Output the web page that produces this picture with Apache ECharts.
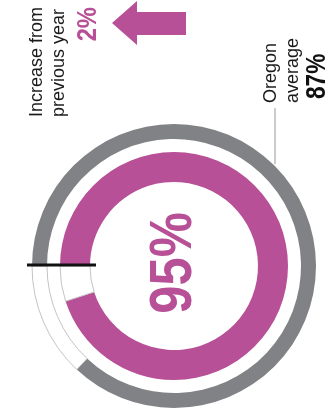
<!DOCTYPE html>
<html>
<head>
<meta charset="utf-8">
<script src="https://cdn.jsdelivr.net/npm/echarts@6/dist/echarts.min.js"></script>
<style>
html,body{margin:0;padding:0;background:#fff;}
#chart{width:328px;height:415px;}
</style>
</head>
<body>
<div id="chart"></div>
<script>
// Data
const ringNames = ['School', 'Oregon average'];
const ringValues = [95, 87];          // percent
const increaseValues = [2];           // percent change from previous year
const labelLines = ['Increase from', 'previous year', 'Oregon', 'average'];

const MAGENTA = '#b75096';
const GRAY = '#808285';
const REST_BORDER = '#c4c4c4';
const FONT = '"Liberation Sans", Arial, Helvetica, sans-serif';

const chart = echarts.init(document.getElementById('chart'), null, {renderer: 'canvas'});

function ringData(v, color) {
  return [
    {value: v, itemStyle: {color: color, borderWidth: 0}},
    {value: 100 - v, itemStyle: {color: '#ffffff', borderColor: REST_BORDER, borderWidth: 1}}
  ];
}

const center = [174, 266];
const R = Math.PI / 2;

chart.setOption({
  animation: false,
  backgroundColor: '#ffffff',
  series: [
    {
      name: ringNames[1], type: 'pie', silent: true,
      center: center, radius: [127, 142], startAngle: 180, clockwise: true,
      label: {show: false}, labelLine: {show: false},
      data: ringData(ringValues[1], GRAY)
    },
    {
      name: ringNames[0], type: 'pie', silent: true,
      center: center, radius: [84, 114], startAngle: 180, clockwise: true,
      label: {show: false}, labelLine: {show: false},
      data: ringData(ringValues[0], MAGENTA)
    }
  ],
  graphic: [
    // baseline tick at start of rings
    {type: 'line', z: 100, shape: {x1: 27, y1: 265, x2: 96, y2: 265},
     style: {stroke: '#111', lineWidth: 3}},
    // leader line for Oregon average
    {type: 'line', z: 100, shape: {x1: 275, y1: 108, x2: 275, y2: 164},
     style: {stroke: '#999', lineWidth: 1}},
    // big percentage
    {type: 'text', z: 100, x: 175, y: 263, rotation: R, scaleX: 0.86,
     style: {text: ringValues[0] + '%', fill: MAGENTA, font: 'bold 59px ' + FONT,
             textAlign: 'center', textVerticalAlign: 'middle'}},
    // Increase label
    {type: 'text', z: 100, x: 37, y: 117, rotation: R,
     style: {text: labelLines[0], fill: '#1a1a1a', font: '18px ' + FONT,
             textAlign: 'left', textVerticalAlign: 'middle'}},
    {type: 'text', z: 100, x: 59, y: 117, rotation: R,
     style: {text: labelLines[1], fill: '#1a1a1a', font: '18px ' + FONT,
             textAlign: 'left', textVerticalAlign: 'middle'}},
    {type: 'text', z: 100, x: 89, y: 7, rotation: R, scaleX: 0.88,
     style: {text: increaseValues[0] + '%', fill: MAGENTA, font: 'bold 27px ' + FONT,
             textAlign: 'right', textVerticalAlign: 'middle'}},
    // arrow
    {type: 'polygon', z: 100,
     shape: {points: [[112, 23], [137, 1], [137, 12], [186, 12], [186, 35], [137, 35], [137, 45]]},
     style: {fill: MAGENTA}},
    // Oregon average label
    {type: 'text', z: 100, x: 271, y: 103, rotation: R,
     style: {text: labelLines[2], fill: '#1a1a1a', font: '18px ' + FONT,
             textAlign: 'left', textVerticalAlign: 'middle'}},
    {type: 'text', z: 100, x: 293, y: 103, rotation: R,
     style: {text: labelLines[3], fill: '#1a1a1a', font: '18px ' + FONT,
             textAlign: 'left', textVerticalAlign: 'middle'}},
    {type: 'text', z: 100, x: 318, y: 99, rotation: R, scaleX: 0.84,
     style: {text: ringValues[1] + '%', fill: '#111', font: 'bold 27px ' + FONT,
             textAlign: 'left', textVerticalAlign: 'middle'}}
  ]
});
</script>
</body>
</html>
